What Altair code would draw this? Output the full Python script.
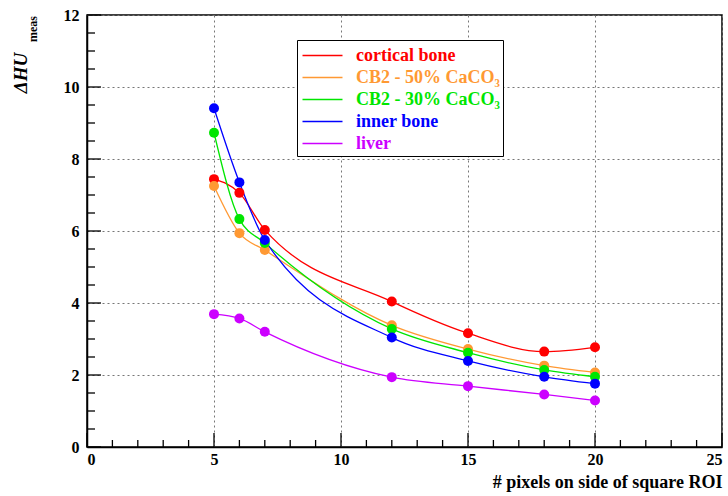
import altair as alt
import pandas as pd

pixels = [5, 6, 7, 12, 15, 18, 20]
series_names = ["cortical bone", "CB2 - 50% CaCO₃", "CB2 - 30% CaCO₃", "inner bone", "liver"]
cortical = [7.44, 7.06, 6.03, 4.04, 3.16, 2.65, 2.77]
cb2_50 = [7.25, 5.94, 5.47, 3.38, 2.72, 2.26, 2.07]
cb2_30 = [8.73, 6.33, 5.67, 3.28, 2.62, 2.14, 1.95]
inner = [9.41, 7.35, 5.75, 3.04, 2.39, 1.95, 1.76]
liver = [3.69, 3.57, 3.20, 1.94, 1.69, 1.46, 1.29]
colors = ["#ff0000", "#ff9933", "#00e600", "#0000ff", "#cc00ff"]

x_major = [0, 5, 10, 15, 20, 25]
x_minor = [v for v in range(0, 26) if v % 5 != 0]
y_major = [0, 2, 4, 6, 8, 10, 12]
y_minor = [v / 2 for v in range(0, 25) if v % 4 != 0]

rows = []
for name, vals in zip(series_names, [cortical, cb2_50, cb2_30, inner, liver]):
    for p, v in zip(pixels, vals):
        rows.append({"series": name, "px": p, "val": v})
df = pd.DataFrame(rows)

FONT = "Liberation Serif"
W, H = 635, 432

xscale = alt.Scale(domain=[0, 25], nice=False, zero=False)
yscale = alt.Scale(domain=[0, 12], nice=False, zero=False)
cscale = alt.Scale(domain=series_names, range=colors)

xaxis = alt.Axis(values=x_major, format="d", labelFont=FONT, labelFontWeight="bold",
                 labelFontSize=16, labelColor="black", labelPadding=4, tickSize=0,
                 domainColor="black", domainWidth=1.5,
                 grid=True, gridDash=[2, 3], gridColor="#777777", gridWidth=1,
                 title="# pixels on side of square ROI", titleFont=FONT, titleFontWeight="bold",
                 titleFontSize=18, titleColor="black", titleAnchor="end", titlePadding=6)
yaxis = alt.Axis(values=y_major, format="d", labelFont=FONT, labelFontWeight="bold",
                 labelFontSize=16, labelColor="black", labelPadding=8, tickSize=0,
                 domainColor="black", domainWidth=1.5,
                 grid=True, gridDash=[2, 3], gridColor="#777777", gridWidth=1, title=None)

legend = alt.Legend(orient="none", legendX=210, legendY=25, title=None,
                    symbolType="M-1.69,0H1.69", symbolSize=560, symbolStrokeWidth=1.3,
                    symbolOffset=10,
                    labelFont=FONT, labelFontWeight="bold", labelFontSize=18,
                    labelColor={"expr": "scale('color', datum.value)"},
                    labelOffset=21, rowPadding=0, padding=3,
                    strokeColor="black", fillColor="white", cornerRadius=0)

base = alt.Chart(df).encode(
    x=alt.X("px:Q", scale=xscale, axis=xaxis),
    y=alt.Y("val:Q", scale=yscale, axis=yaxis),
    color=alt.Color("series:N", scale=cscale, legend=legend),
)
lines = base.mark_line(interpolate="monotone", strokeWidth=1.3)
points = base.mark_point(filled=True, size=100, opacity=1)

def xticks(vals, length):
    return alt.Chart(pd.DataFrame({"t": vals})).mark_rule(color="black", strokeWidth=1.3).encode(
        x=alt.X("t:Q", scale=xscale), y=alt.value(H), y2=alt.value(H - length))

def yticks(vals, length):
    return alt.Chart(pd.DataFrame({"t": vals})).mark_rule(color="black", strokeWidth=1.3).encode(
        y=alt.Y("t:Q", scale=yscale), x=alt.value(0), x2=alt.value(length))

ytitle = alt.Chart(pd.DataFrame({"t": ["ΔHU"]})).mark_text(
    angle=270, font=FONT, fontStyle="italic", fontWeight="bold", fontSize=19, color="black"
).encode(text="t:N", x=alt.value(-66), y=alt.value(58))
ysub = alt.Chart(pd.DataFrame({"t": ["meas"]})).mark_text(
    angle=270, font=FONT, fontWeight="bold", fontSize=12, color="black"
).encode(text="t:N", x=alt.value(-54), y=alt.value(14))

chart = alt.layer(
    xticks(x_major, 14), xticks(x_minor, 7), yticks(y_major, 14), yticks(y_minor, 8),
    lines, points, ytitle, ysub
).properties(
    width=W, height=H,
    padding={"left": 87, "top": 15, "right": 6, "bottom": 49},
    autosize=alt.AutoSizeParams(type="none"),
    background="white",
).configure_view(stroke="black", strokeWidth=1.5)

chart.save("out.html", embed_options={"renderer": "svg", "actions": False})
